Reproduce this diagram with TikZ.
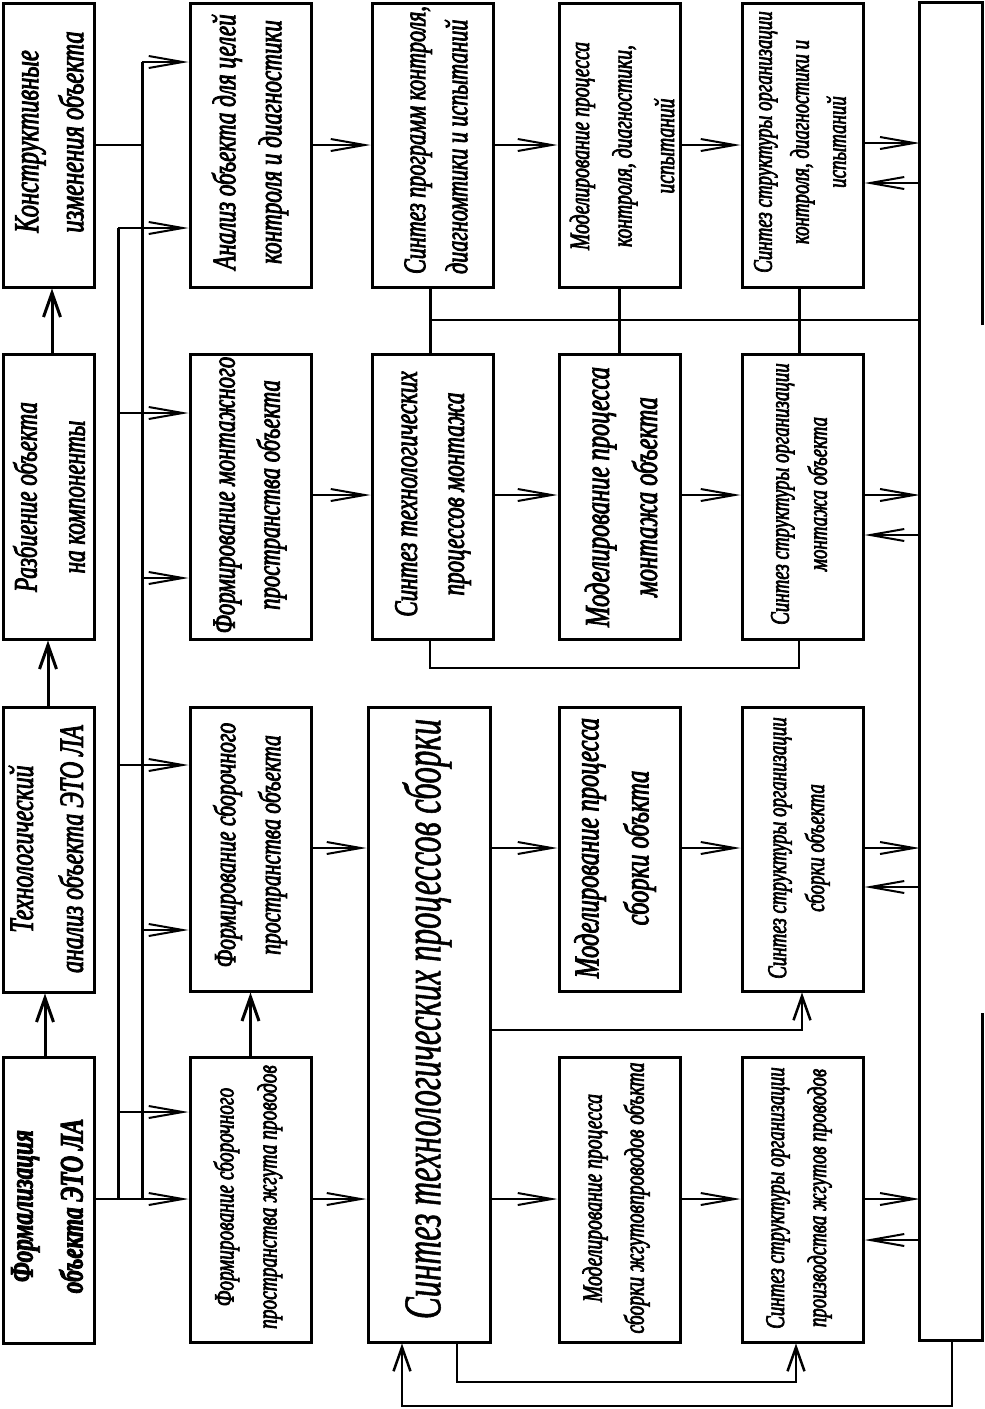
\documentclass[tikz,border=0pt]{standalone}
\usepackage{fontspec}
\setmainfont{Liberation Serif}
\newfontfamily\cf{Liberation Serif}[FakeStretch=0.7, FakeBold=2.5]
\newfontfamily\cfn{Liberation Serif}[FakeStretch=0.62, FakeBold=1]
\usetikzlibrary{arrows.meta}
\begin{document}
\begin{tikzpicture}[x=1pt,y=-1pt,
  box/.style={draw, line width=3pt, rectangle, inner sep=0pt},
  lbl/.style 2 args={rotate=90, align=center, inner sep=0pt, font=\cf\itshape\fontsize{#1}{#2}\selectfont},
  lbll/.style 2 args={rotate=90, align=left, inner sep=0pt, font=\cf\itshape\fontsize{#1}{#2}\selectfont},
  conn/.style={line width=2pt},
  bus/.style={line width=3pt},
  mid/.style={line width=2.5pt},
  harr/.style={line width=2pt, -{Straight Barb[length=34pt,width=12pt]}},
  varr/.style={line width=3pt, -{Straight Barb[length=24pt,width=17pt]}},
]
\fill[white] (0,0) rectangle (985,1409);
\useasboundingbox (0,0) rectangle (985,1409);

% column 1
\node[box, minimum width=91, minimum height=284] (A) at (48.5,145) {};
\node[box, minimum width=91, minimum height=285] (B) at (48.5,496.5) {};
\node[box, minimum width=91, minimum height=285] (C) at (48.5,849.5) {};
\node[box, minimum width=91, minimum height=286] (D) at (48.5,1200) {};
% column 2
\node[box, minimum width=121, minimum height=284] (E1) at (250.5,145) {};
\node[box, minimum width=121, minimum height=285] (E2) at (250.5,496.5) {};
\node[box, minimum width=121, minimum height=284] (E3) at (250.5,849) {};
\node[box, minimum width=121, minimum height=285] (E4) at (250.5,1199.5) {};
% column 3
\node[box, minimum width=121, minimum height=284] (F1) at (432.5,145) {};
\node[box, minimum width=121, minimum height=285] (F2) at (432.5,496.5) {};
\node[box, minimum width=122, minimum height=635] (F3) at (429,1024.5) {};
% column 4
\node[box, minimum width=121, minimum height=284] (G1) at (619.5,145) {};
\node[box, minimum width=121, minimum height=285] (G2) at (619.5,496.5) {};
\node[box, minimum width=121, minimum height=284] (G3) at (619.5,849) {};
\node[box, minimum width=121, minimum height=285] (G4) at (619.5,1199.5) {};
% column 5
\node[box, minimum width=121, minimum height=284] (H1) at (802.5,145) {};
\node[box, minimum width=121, minimum height=285] (H2) at (802.5,496.5) {};
\node[box, minimum width=121, minimum height=284] (H3) at (802.5,849) {};
\node[box, minimum width=121, minimum height=285] (H4) at (802.5,1199.5) {};
% tall box
\node[inner sep=0pt, minimum width=62, minimum height=1337] (T) at (951,671.5) {};
\coordinate (tg1) at (982,325);
\coordinate (tg2) at (982,1013);
\draw[line width=3pt] (T.east |- tg1) -- (T.north east) -- (T.north west) -- (T.south west) -- (T.south east) -- (T.east |- tg2);

% labels
\node[lbll={35}{45}] (tA) at (49.5,132) {Конструктивные\\изменения объекта};
\node[lbl={33}{48}] (tB) at (49,497) {Разбиение объекта\\на компоненты};
\node[lbl={34}{50}] (tC) at (46,849) {Технологический\\анализ объекта ЭТО ЛА};
\node[lbl={34}{50}, font=\cf\itshape\bfseries\fontsize{33}{50}\selectfont] (tD) at (47,1206) {Формализация\\объекта ЭТО ЛА};
\node[lbl={33}{46}] (tE1) at (250,142) {Анализ объекта для целей\\контроля и диагностики};
\node[lbl={32.4}{45}] (tE2) at (250,495) {Формирование монтажного\\пространства объекта};
\node[lbl={31}{45}] (tE3) at (250,845) {Формирование сборочного\\пространства объекта};
\node[lbl={27.7}{43}] (tE4) at (248,1197) {Формирование сборочного\\пространства жгута проводов};
\node[lbll={31.5}{42}] (tF1) at (436,140) {Синтез программ контроля,\\диагномтики и испытаний};
\node[lbl={33}{47}] (tF2) at (433,494) {Синтез технологических\\процессов монтажа};
\node[rotate=90, inner sep=0pt, font=\cfn\itshape\fontsize{53}{60}\selectfont] (tF3) at (427,1019) {Синтез технологических процессов сборки};
\node[lbl={28}{42.5}] (tG1) at (622,146) {Моделирование процесса\\контроля, диагностики,\\испытаний};
\node[lbl={35}{48}] (tG2) at (621,497) {Моделирование процесса\\монтажа объекта};
\node[lbl={35}{50}] (tG3) at (615,848) {Моделирование процесса\\сборки объкта};
\node[lbl={28}{42}] (tG4) at (616,1198) {Моделирование процесса\\сборки жгутовпроводов объкта};
\node[lbl={27}{37}] (tH1) at (800,142) {Синтез структуры организации\\контроля, диагностики и\\испытаний};
\node[lbl={27}{38}] (tH2) at (799,494) {Синтез структуры организации\\монтажа объекта};
\node[lbl={27}{38}] (tH3) at (799,848) {Синтез структуры организации\\сборки объекта};
\node[lbl={27}{42}] (tH4) at (799,1198) {Синтез структуры организации\\производства жгутов проводов};

% column 1 vertical arrows
\coordinate (x45) at (45,0);
\coordinate (x48) at (48,0);
\coordinate (x52) at (52,0);
\draw[varr] (D.north -| x45) -- (C.south -| x45);
\draw[varr] (C.north -| x48) -- (B.south -| x48);
\draw[varr] (B.north -| x52) -- (A.south -| x52);

% buses
\coordinate (b1top) at (118,228);
\coordinate (b1bot) at (118,1199);
\coordinate (b2top) at (142,62);
\coordinate (b2bot) at (142,1199);
\coordinate (b1r2) at (118,413);
\coordinate (b1r3) at (118,765);
\coordinate (b1r4) at (118,1112);
\coordinate (b2r2) at (142,578);
\coordinate (b2r3) at (142,930);
\draw[bus] (b1bot) -- (b1top);
\draw[bus] (b2bot) -- (b2top);
\draw[conn] (A.east) -- (A.east -| b2top);
\draw[harr] (D.east |- b1bot) -- (E4.west |- b1bot);
\draw[harr] (b1top) -- (E1.west |- b1top);
\draw[harr] (b1r2) -- (E2.west |- b1r2);
\draw[harr] (b1r3) -- (E3.west |- b1r3);
\draw[harr] (b1r4) -- (E4.west |- b1r4);
\draw[harr] (b2top) -- (E1.west |- b2top);
\draw[harr] (b2r2) -- (E2.west |- b2r2);
\draw[harr] (b2r3) -- (E3.west |- b2r3);

% column 2 vertical arrow
\draw[varr] (E4.north) -- (E3.south);

% row connectors
\coordinate (r1) at (0,145);
\coordinate (r1b) at (0,143);
\coordinate (r1f) at (0,183);
\coordinate (r2) at (0,495);
\coordinate (r2f) at (0,535);
\coordinate (r3) at (0,848);
\coordinate (r3f) at (0,887);
\coordinate (r4) at (0,1199);
\coordinate (r4f) at (0,1240);
\draw[harr] (E1.east |- r1) -- (F1.west |- r1);
\draw[harr] (F1.east |- r1) -- (G1.west |- r1);
\draw[harr] (G1.east |- r1) -- (H1.west |- r1);
\draw[harr] (H1.east |- r1b) -- (T.west |- r1b);
\draw[harr] (T.west |- r1f) -- (H1.east |- r1f);

\draw[harr] (E2.east |- r2) -- (F2.west |- r2);
\draw[harr] (F2.east |- r2) -- (G2.west |- r2);
\draw[harr] (G2.east |- r2) -- (H2.west |- r2);
\draw[harr] (H2.east |- r2) -- (T.west |- r2);
\draw[harr] (T.west |- r2f) -- (H2.east |- r2f);

\draw[harr] (E3.east |- r3) -- (F3.west |- r3);
\draw[harr] (F3.east |- r3) -- (G3.west |- r3);
\draw[harr] (G3.east |- r3) -- (H3.west |- r3);
\draw[harr] (H3.east |- r3) -- (T.west |- r3);
\draw[harr] (T.west |- r3f) -- (H3.east |- r3f);

\draw[harr] (E4.east |- r4) -- (F3.west |- r4);
\draw[harr] (F3.east |- r4) -- (G4.west |- r4);
\draw[harr] (G4.east |- r4) -- (H4.west |- r4);
\draw[harr] (H4.east |- r4) -- (T.west |- r4);
\draw[harr] (T.west |- r4f) -- (H4.east |- r4f);

% row 1 to row 2 links
\coordinate (c1) at (430,668);
\coordinate (c2) at (799,668);
\coordinate (c3) at (430,320);
\draw[bus] (F1.south -| c1) -- (F2.north -| c1);
\draw[bus] (G1.south) -- (G2.north);
\draw[bus] (H1.south -| c2) -- (H2.north -| c2);
\draw[conn] (c3) -- (T.west |- c3);
\draw[mid] (F2.south -| c1) -- (c1) -- (c2) -- (H2.south -| c2);

% lower feedbacks
\coordinate (d2) at (802,1030);
\draw[varr, line width=2.5pt] (F3.east |- d2) -- (d2) -- (H3.south -| d2);
\coordinate (e1) at (457,1382);
\coordinate (e2) at (796,1382);
\draw[varr, line width=2.5pt] (F3.south -| e1) -- (e1) -- (e2) -- (H4.south -| e2);
\coordinate (t1) at (952,1406);
\coordinate (t2) at (402,1406);
\draw[varr, line width=2.5pt] (T.south -| t1) -- (t1) -- (t2) -- (F3.south -| t2);
\end{tikzpicture}
\end{document}
